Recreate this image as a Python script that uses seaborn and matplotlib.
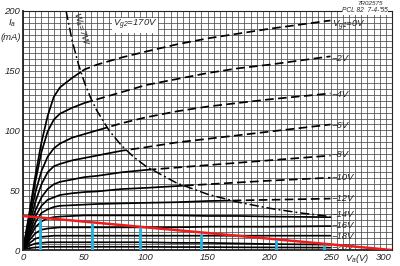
import numpy as np
import pandas as pd
import matplotlib
matplotlib.use("Agg")
import matplotlib.pyplot as plt
import seaborn as sns
from matplotlib.path import Path

# ---------------- data ----------------
va = [0, 5, 10, 15, 20, 25, 30, 40, 50, 60, 80, 100, 125, 150, 175, 200, 250]
ia_g1_0 = [0, 30, 62, 90, 112, 128, 136, 144, 151, 155, 161, 166, 172, 177, 181, 185, 192]
ia_g1_2 = [0, 28, 57, 82, 99, 109, 114, 119, 123, 126, 132, 138, 143, 148, 152, 155, 162]
ia_g1_4 = [0, 24, 48, 66, 78, 85, 89, 94, 97, 100, 106, 111, 116, 120, 123, 126, 131]
ia_g1_6 = [0, 20, 40, 55, 65, 70, 72, 75, 77, 79, 83, 86, 90, 93, 96, 99, 105]
ia_g1_8 = [0, 17, 33, 44, 51, 55, 57, 59, 61, 62, 65, 67, 69, 71, 73, 75, 79]
ia_g1_10 = [0, 14, 28, 37, 42, 44, 46, 47.5, 48.5, 49, 51, 52, 53.5, 55, 56.5, 58, 60.5]
ia_g1_12 = [0, 12, 23, 31, 34, 36, 37, 37.5, 38, 38.5, 39, 39.5, 40, 41, 41.5, 42, 43]
ia_g1_14 = [0, 10, 19, 24, 26.5, 27.5, 28, 28.5, 29, 29, 29, 29, 29, 28.5, 28.5, 28, 27.5]
ia_g1_16 = [0, 8, 14, 17, 18, 18.5, 19, 19, 19, 19, 19, 19, 19, 19.5, 19.5, 19.5, 20]
ia_g1_18 = [0, 5.5, 9.5, 11, 11.5, 12, 12, 12, 12, 12, 12, 12, 12, 12, 12, 12, 12]
ia_g1_20 = [0, 3.5, 5.5, 6, 6.5, 6.5, 6.5, 6.5, 6.5, 6.5, 6.5, 6.5, 6, 6, 5.5, 5, 4.5]
ia_g1_22 = [0, 1.5, 2.2, 2.5, 2.7, 2.7, 2.7, 2.7, 2.7, 2.7, 2.7, 2.7, 2.5, 2.5, 2.3, 2.2, 2]

curves = [ia_g1_0, ia_g1_2, ia_g1_4, ia_g1_6, ia_g1_8, ia_g1_10, ia_g1_12,
          ia_g1_14, ia_g1_16, ia_g1_18, ia_g1_20, ia_g1_22]

# grid-voltage labels at the right end of the curves
curve_labels = [r"$V_{g1}$=0V", "−2V", "−4V", "−6V", "−8V", "−10V", "−12V",
                "−14V", "−16V", "−18V", "−20V"]
label_i = [187, 160, 130, 104, 79.5, 61, 43.5, 30, 20.5, 11, 2]

# Wa = 7 W dissipation hyperbola
wa_v = [35, 40, 45, 50, 55, 60, 70, 80, 90, 100, 125, 150, 175, 200, 225, 250]
wa_i = [200, 175, 155.6, 140, 127.3, 116.7, 100, 87.5, 77.8, 70, 56, 46.7, 40, 35, 31.1, 28]

# load line (red) and marked points (cyan)
load_v = [0, 300]
load_i = [28.5, 0]
mark_v = [14, 56, 95, 145, 206, 245]
mark_i = [26.5, 22.8, 19, 13.5, 8.5, 4.5]

x_ticks = [0, 50, 100, 150, 200, 250, 300]
x_tick_labels = ["0", "50", "100", "150", "200", "250", "300"]
y_ticks = [0, 50, 100, 150, 200]
y_tick_labels = ["0", "50", "100", "150", "200"]

# ---------------- drawing ----------------
sns.set_style("white")
plt.rcParams["font.family"] = ["Liberation Sans", "DejaVu Sans"]
plt.rcParams["mathtext.fontset"] = "custom"
plt.rcParams["mathtext.it"] = "Liberation Sans:italic"
plt.rcParams["mathtext.rm"] = "Liberation Sans:italic"

FS = 6.8
fig = plt.figure(figsize=(4.0, 2.66), dpi=100)
ax = fig.add_axes([0.0575, 0.06, 0.9225, 0.899])

ax.set_xlim(0, 300)
ax.set_ylim(0, 200)
ax.set_xticks(x_ticks)
ax.set_xticklabels([""] * len(x_ticks))
ax.set_yticks(y_ticks)
ax.set_yticklabels(y_tick_labels, fontsize=FS, style="italic")
ax.set_xticks(np.arange(0, 301, 5), minor=True)
ax.set_yticks(np.arange(0, 201, 5), minor=True)
ax.grid(which="both", color="#4a4a4a", lw=0.55)
ax.tick_params(which="both", length=0, pad=2)
for s in ax.spines.values():
    s.set_color("#222")
    s.set_linewidth(0.8)
ax.spines["left"].set_linewidth(1.3)
ax.spines["bottom"].set_linewidth(1.3)

for xv, lab in zip(x_ticks, x_tick_labels):
    ax.text(xv, -2.5, lab, ha="right" if xv == 300 else "center", va="top",
            fontsize=FS, style="italic")
ax.text(272, -2, r"$V_a$(V)", ha="center", va="top", fontsize=FS, style="italic")
ax.text(-9, 190, r"$I_a$", ha="center", va="center", fontsize=FS, style="italic")
ax.text(-10, 178, "(mA)", ha="center", va="center", fontsize=FS, style="italic")

# clip regions below / above the dissipation hyperbola
below = [(-5, -5), (-5, 215), (wa_v[0], 215)] + list(zip(wa_v, wa_i)) + [(310, wa_i[-1]), (310, -5)]
above = [(wa_v[0], 215)] + list(zip(wa_v, wa_i)) + [(310, wa_i[-1]), (310, 215)]
path_below = Path(below + [below[0]], closed=True)
path_above = Path(above + [above[0]], closed=True)

for ia in curves:
    df = pd.DataFrame({"Va": va, "Ia": ia})
    sns.lineplot(data=df, x="Va", y="Ia", ax=ax, color="black", lw=1.25,
                 estimator=None, sort=False)
    ax.lines[-1].set_clip_path(path_below, ax.transData)
    sns.lineplot(data=df, x="Va", y="Ia", ax=ax, color="black", lw=1.25,
                 estimator=None, sort=False, linestyle=(0, (5, 2.5)))
    ax.lines[-1].set_clip_path(path_above, ax.transData)

for yi, lab in zip(label_i, curve_labels):
    ax.text(251, yi, lab, ha="left", va="center", fontsize=FS, style="italic")

sns.lineplot(x=wa_v, y=wa_i, ax=ax, color="black", lw=1.1, estimator=None, sort=False,
             linestyle=(0, (6, 2, 1.2, 2)))
ax.text(47, 185, r"$W_a$=7W", rotation=-73, ha="center", va="center", fontsize=FS, style="italic")
ax.text(91, 188, r"$V_{g2}$=170V", ha="center", va="center", fontsize=FS, style="italic",
        bbox=dict(facecolor="white", edgecolor="none", pad=0.3))

sns.lineplot(x=load_v, y=load_i, ax=ax, color="#ee1c1c", lw=1.8, estimator=None, sort=False,
             zorder=4)
ax.vlines(mark_v, 0, mark_i, color="#22b4e0", lw=2.0, zorder=5)

ax.set_xlabel("")
ax.set_ylabel("")

fig.text(0.925, 0.997, "7R02575", ha="center", va="top", fontsize=4.5, style="italic")
fig.text(0.912, 0.972, "PCL 82  7-4-'55", ha="center", va="top", fontsize=4.8, style="italic",
         bbox=dict(facecolor="white", edgecolor="none", pad=0.2))

fig.savefig("out.png", dpi=100)
